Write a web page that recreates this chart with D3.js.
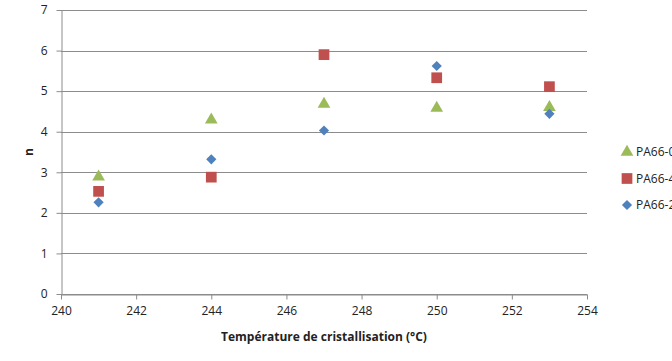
<!DOCTYPE html>
<html>
<head>
<meta charset="utf-8">
<script src="https://cdn.jsdelivr.net/npm/d3@7"></script>
<style>
  html, body { margin: 0; padding: 0; background: #fff; overflow: hidden; }
  text { font-family: "Open Sans", "Liberation Sans", sans-serif; fill: #222; }
</style>
</head>
<body>
<div class="vis-scatter"></div>
<script>
// temperatures (°C)
const temps = [241, 244, 247, 250, 253];
// n values per series
const seriesA = [2.89, 4.29, 4.68, 4.58, 4.60]; // green triangles
const seriesB = [2.53, 2.88, 5.90, 5.33, 5.11]; // red squares
const seriesC = [2.26, 3.32, 4.03, 5.62, 4.44]; // blue diamonds
const seriesNames = ['PA66-0', 'PA66-4', 'PA66-2'];
const xTicks = [240, 242, 244, 246, 248, 250, 252, 254];
const yTicks = [0, 1, 2, 3, 4, 5, 6, 7];

const draw = () => {
  const W = 672, H = 361;
  const margin = { top: 10, right: 85, bottom: 67, left: 61 };
  const width = W - margin.left - margin.right;
  const height = H - margin.top - margin.bottom;

  const svg = d3.select('.vis-scatter')
    .append('svg')
    .attr('width', W)
    .attr('height', H);

  const g = svg.append('g')
    .attr('transform', `translate(${margin.left},${margin.top})`);

  const x = d3.scaleLinear().domain([240, 254]).range([0, width]);
  const y = d3.scaleLinear().domain([0, 7]).range([height, 0]);

  // gridlines
  g.selectAll('line.grid')
    .data(yTicks)
    .enter()
    .append('line')
    .attr('class', 'grid')
    .attr('x1', 0)
    .attr('x2', width)
    .attr('y1', (d) => Math.round(y(d)) + 0.5)
    .attr('y2', (d) => Math.round(y(d)) + 0.5)
    .attr('stroke', '#8c8c8c')
    .attr('stroke-width', 1);

  // axes
  const xAxis = g.append('g')
    .attr('transform', `translate(0,${Math.round(height) + 0.5})`)
    .call(d3.axisBottom(x).tickValues(xTicks).tickFormat(d3.format('d')).tickSize(5).tickSizeOuter(0));
  const yAxis = g.append('g')
    .attr('transform', 'translate(0.5,0)')
    .call(d3.axisLeft(y).tickValues(yTicks).tickFormat(d3.format('d')).tickSize(5).tickSizeOuter(0));

  [xAxis, yAxis].forEach((a) => {
    a.select('.domain').attr('stroke', '#8c8c8c');
    a.selectAll('.tick line').attr('stroke', '#8c8c8c');
    a.selectAll('.tick text')
      .style('font-family', '"Open Sans", sans-serif')
      .style('font-size', '12px')
      .attr('fill', '#222');
  });
  xAxis.selectAll('.tick text').attr('dy', '1.05em');
  yAxis.selectAll('.tick text').attr('x', -14);

  // axis titles
  svg.append('text')
    .attr('x', margin.left + x(247))
    .attr('y', 341)
    .attr('text-anchor', 'middle')
    .style('font-size', '12px')
    .style('font-weight', 'bold')
    .text('Température de cristallisation (°C)');

  svg.append('text')
    .attr('transform', 'translate(33,152) rotate(-90)')
    .attr('text-anchor', 'middle')
    .style('font-size', '12px')
    .style('font-weight', 'bold')
    .text('n');

  const series = [
    { name: seriesNames[0], values: seriesA, color: '#9bbb59', symbol: d3.symbolTriangle, size: 70, rot: 0 },
    { name: seriesNames[1], values: seriesB, color: '#c0504d', symbol: d3.symbolSquare, size: 115, rot: 0 },
    { name: seriesNames[2], values: seriesC, color: '#4f81bd', symbol: d3.symbolSquare, size: 52, rot: 45 },
  ];

  series.forEach((s) => {
    g.selectAll(null)
      .data(s.values.map((v, i) => ({ t: temps[i], v })))
      .enter()
      .append('path')
      .attr('d', d3.symbol().type(s.symbol).size(s.size))
      .attr('transform', (d) => `translate(${x(d.t)},${y(d.v)}) rotate(${s.rot})`)
      .attr('fill', s.color);
  });

  // legend
  const legend = svg.append('g').attr('transform', 'translate(627,152)');
  legend.selectAll('g')
    .data(series)
    .enter()
    .append('g')
    .attr('transform', (d, i) => `translate(0,${i * 26.5})`)
    .each(function (s) {
      d3.select(this).append('path')
        .attr('d', d3.symbol().type(s.symbol).size(s.size))
        .attr('transform', `rotate(${s.rot})`)
        .attr('fill', s.color);
      d3.select(this).append('text')
        .attr('x', 9)
        .attr('y', 4)
        .style('font-size', '12px')
        .text(s.name);
    });
};

draw();
</script>
</body>
</html>
